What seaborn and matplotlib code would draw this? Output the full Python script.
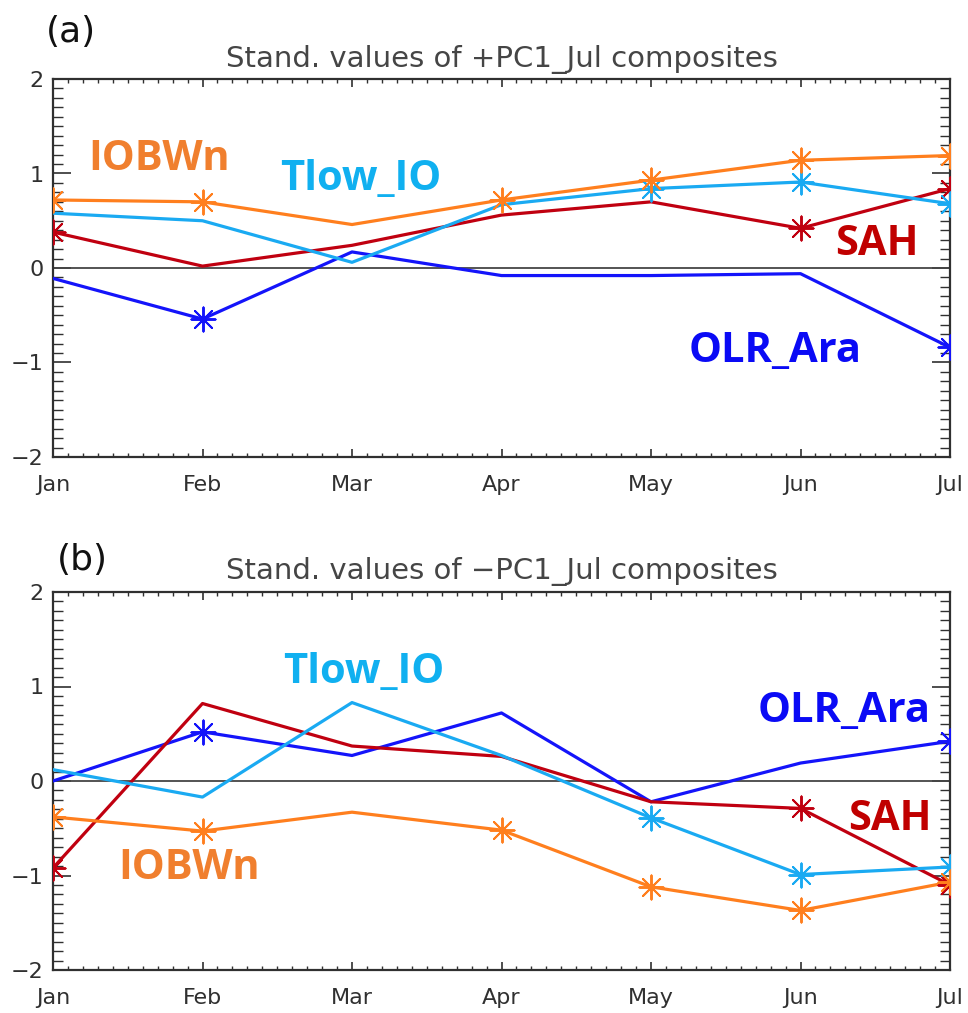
import numpy as np
import pandas as pd
import matplotlib
matplotlib.use("Agg")
import matplotlib.pyplot as plt
from matplotlib.ticker import MultipleLocator, FixedLocator
import seaborn as sns

# ---------------- data ----------------
months = ["Jan", "Feb", "Mar", "Apr", "May", "Jun", "Jul"]
series_names = ["OLR_Ara", "SAH", "Tlow_IO", "IOBWn"]

# panel (a): +PC1_Jul composites
a_iobwn = [0.72, 0.70, 0.46, 0.72, 0.93, 1.14, 1.19]
a_tlow = [0.58, 0.50, 0.06, 0.67, 0.84, 0.91, 0.68]
a_sah = [0.38, 0.02, 0.24, 0.56, 0.70, 0.42, 0.84]
a_olr = [-0.11, -0.54, 0.17, -0.08, -0.08, -0.06, -0.84]
# significant points (asterisks)
a_iobwn_sig = [1, 1, 0, 1, 1, 1, 1]
a_tlow_sig = [0, 0, 0, 0, 1, 1, 1]
a_sah_sig = [1, 0, 0, 0, 0, 1, 1]
a_olr_sig = [0, 1, 0, 0, 0, 0, 1]

# panel (b): -PC1_Jul composites
b_iobwn = [-0.38, -0.53, -0.33, -0.52, -1.12, -1.37, -1.07]
b_tlow = [0.12, -0.17, 0.83, 0.27, -0.39, -0.99, -0.91]
b_sah = [-0.92, 0.82, 0.37, 0.26, -0.22, -0.29, -1.10]
b_olr = [0.00, 0.52, 0.27, 0.72, -0.22, 0.19, 0.42]
b_iobwn_sig = [1, 1, 0, 1, 1, 1, 1]
b_tlow_sig = [0, 0, 0, 0, 1, 1, 1]
b_sah_sig = [1, 0, 0, 0, 0, 1, 1]
b_olr_sig = [0, 1, 0, 0, 0, 0, 1]

colors = {"IOBWn": "#FF7F1E", "Tlow_IO": "#1AAAF2", "SAH": "#C00010", "OLR_Ara": "#1414FA"}
text_colors = {"IOBWn": "#F07F2E", "Tlow_IO": "#10B0F0", "SAH": "#C00000", "OLR_Ara": "#0A0AF5"}


def make_df(vals, sigs):
    rows = []
    for name in series_names:
        for i, m in enumerate(months):
            rows.append({"series": name, "x": i, "month": m,
                         "value": vals[name][i], "sig": bool(sigs[name][i])})
    return pd.DataFrame(rows)


df_a = make_df({"IOBWn": a_iobwn, "Tlow_IO": a_tlow, "SAH": a_sah, "OLR_Ara": a_olr},
               {"IOBWn": a_iobwn_sig, "Tlow_IO": a_tlow_sig, "SAH": a_sah_sig, "OLR_Ara": a_olr_sig})
df_b = make_df({"IOBWn": b_iobwn, "Tlow_IO": b_tlow, "SAH": b_sah, "OLR_Ara": b_olr},
               {"IOBWn": b_iobwn_sig, "Tlow_IO": b_tlow_sig, "SAH": b_sah_sig, "OLR_Ara": b_olr_sig})

# ---------------- style ----------------
sns.set_theme(style="white")
plt.rcParams["font.family"] = ["DejaVu Sans"]
plt.rcParams["xtick.bottom"] = True
plt.rcParams["ytick.left"] = True

W, H = 968, 1013
fig = plt.figure(figsize=(W / 100, H / 100), dpi=100)
ax_a = fig.add_axes([53 / W, 1 - 457 / H, 897 / W, 378 / H])
ax_b = fig.add_axes([53 / W, 1 - 970 / H, 897 / W, 378 / H])

label_pos_a = {"IOBWn": (0.234, 1.04), "Tlow_IO": (1.52, 0.83), "SAH": (5.23, 0.14), "OLR_Ara": (4.25, -0.99)}
label_pos_b = {"Tlow_IO": (1.54, 1.04), "OLR_Ara": (4.71, 0.62), "SAH": (5.32, -0.52), "IOBWn": (0.435, -1.04)}


def draw_panel(ax, df, title, label_pos):
    ax.axhline(0, color="#454545", lw=1.3, zorder=1)
    sns.lineplot(data=df, x="x", y="value", hue="series", palette=colors,
                 hue_order=series_names, legend=False, lw=2.3, sort=False,
                 estimator=None, ax=ax, zorder=3)
    sig = df[df["sig"]]
    for name in series_names:
        sub = sig[sig["series"] == name]
        sns.scatterplot(data=sub, x="x", y="value", color=colors[name],
                        marker=(8, 2, 0), s=300, linewidth=1.4,
                        edgecolor=colors[name], legend=False, ax=ax, zorder=4)
    ax.set_xlim(0, 6)
    ax.set_ylim(-2, 2)
    ax.xaxis.set_major_locator(FixedLocator(range(len(months))))
    ax.set_xticklabels(months)
    ax.xaxis.set_minor_locator(MultipleLocator(0.1))
    ax.yaxis.set_major_locator(MultipleLocator(1))
    ax.yaxis.set_minor_locator(MultipleLocator(0.1))
    ax.set_xlabel("")
    ax.set_ylabel("")
    ax.tick_params(axis="both", which="both", direction="in", top=True, right=True,
                   bottom=True, left=True,
                   color="#303030", labelcolor="#303030", labelsize=16)
    ax.tick_params(axis="x", which="major", length=6, width=1.2, pad=13)
    ax.tick_params(axis="x", which="minor", length=3, width=1.0)
    ax.tick_params(axis="y", which="major", length=13, width=1.2, pad=7)
    ax.tick_params(axis="y", which="minor", length=7, width=1.0)
    for sp in ax.spines.values():
        sp.set_color("#303030")
        sp.set_linewidth(1.6)
    ax.set_title(title, fontsize=21, color="#454545", pad=9)
    for name, (tx, ty) in label_pos.items():
        ax.text(tx, ty, name, color=text_colors[name], fontsize=30,
                fontweight="bold", family="Open Sans", ha="left", va="baseline", zorder=5)


draw_panel(ax_a, df_a, "Stand. values of +PC1_Jul composites", label_pos_a)
draw_panel(ax_b, df_b, "Stand. values of \u2212PC1_Jul composites", label_pos_b)

fig.text(71 / W, 1 - 32 / H, "(a)", fontsize=26, color="#111111", ha="center", va="center")
fig.text(82 / W, 1 - 560 / H, "(b)", fontsize=26, color="#111111", ha="center", va="center")

fig.savefig("out.png", dpi=100, facecolor="white")
